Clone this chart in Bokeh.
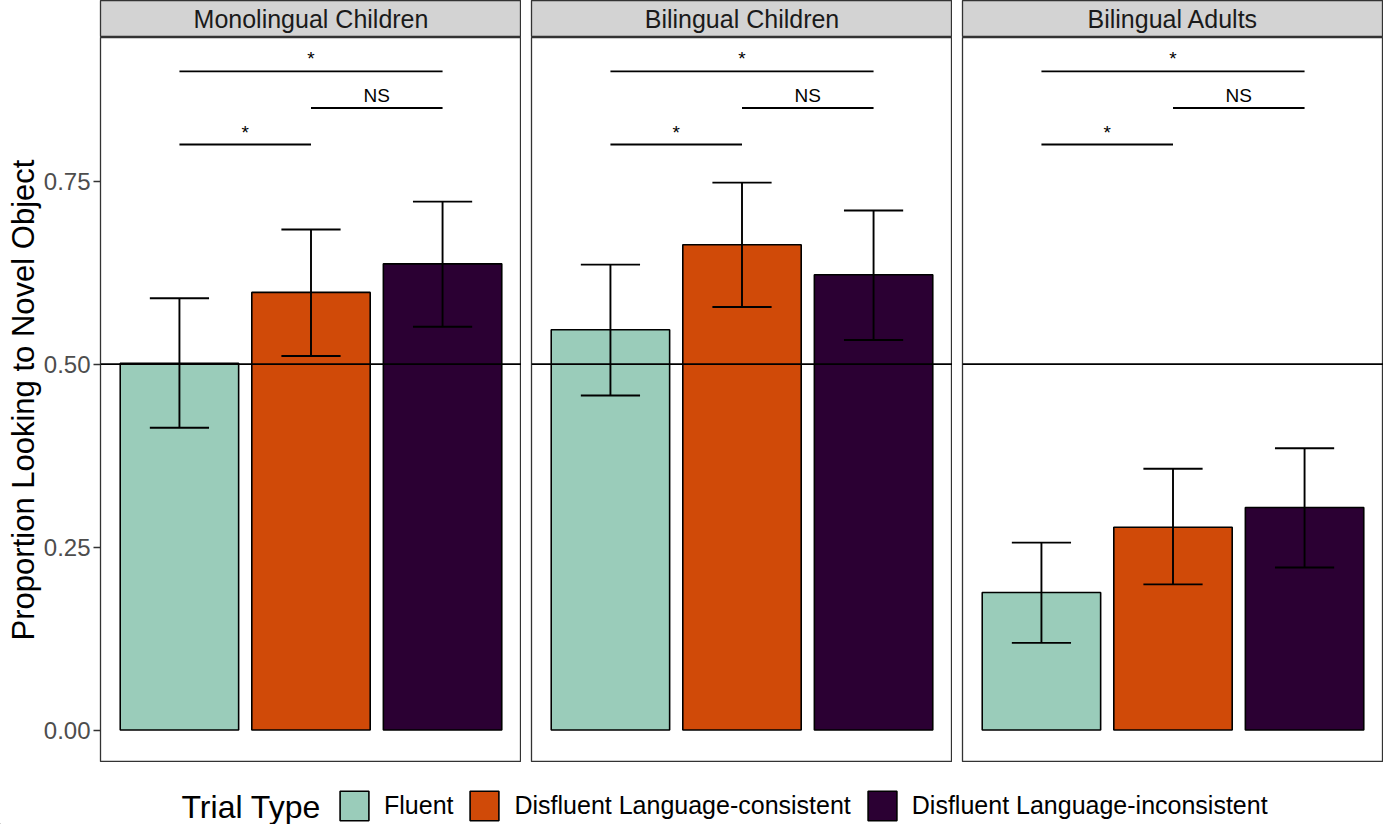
from bokeh.plotting import figure
from bokeh.models import Range1d, Span, Label, Legend, LegendItem, FixedTicker, ColumnDataSource
from bokeh.layouts import row, column
from bokeh.embed import file_html
from bokeh.resources import INLINE

FONT = "Liberation Sans"

groups = ["Monolingual Children", "Bilingual Children", "Bilingual Adults"]
trial_types = ["Fluent", "Disfluent Language-consistent", "Disfluent Language-inconsistent"]
colors = ["#9ACCBA", "#D04A08", "#2B0033"]

mono_mean = [0.501, 0.598, 0.637]
mono_lo = [0.413, 0.511, 0.551]
mono_hi = [0.590, 0.684, 0.722]

bich_mean = [0.547, 0.663, 0.622]
bich_lo = [0.457, 0.578, 0.533]
bich_hi = [0.636, 0.748, 0.710]

adult_mean = [0.188, 0.277, 0.304]
adult_lo = [0.119, 0.199, 0.222]
adult_hi = [0.256, 0.357, 0.385]

means = [mono_mean, bich_mean, adult_mean]
lows = [mono_lo, bich_lo, adult_lo]
highs = [mono_hi, bich_hi, adult_hi]

# significance comparisons: (from index, to index, y level, label)
sig_from = [1, 2, 1]
sig_to = [3, 3, 2]
sig_y = [0.90, 0.85, 0.80]
sig_label = ["*", "NS", "*"]

y_ticks = [0.0, 0.25, 0.5, 0.75]
y_tick_labels = ["0.00", "0.25", "0.50", "0.75"]

LEFT = 100
GAP = 10
FRAME_W = 421
FRAME_H = 725
STRIP_H = 37
BAR_W = 0.9
CAP_W = 0.45
LW = 1.9

headers = []
panels = []
for gi, g in enumerate(groups):
    left_border = LEFT if gi == 0 else GAP
    # strip header
    h = figure(frame_width=FRAME_W, frame_height=STRIP_H, x_range=Range1d(0, 1), y_range=Range1d(0, 1),
               toolbar_location=None, output_backend="svg", x_axis_location=None, y_axis_location=None,
               min_border_left=left_border, min_border_right=0, min_border_top=0, min_border_bottom=0)
    h.background_fill_color = "#D3D3D3"
    h.border_fill_color = "white"
    h.outline_line_color = "#333333"
    h.outline_line_width = 1.3
    h.grid.visible = False
    h.add_layout(Label(x=0.5, y=0.5, text=g, text_align="center", text_baseline="middle",
                       text_font=FONT, text_font_size="25px", text_color="#1A1A1A"))
    headers.append(h)

    xs = [i + 1 for i in range(len(trial_types))]
    p = figure(frame_width=FRAME_W, frame_height=FRAME_H, x_range=Range1d(0.4, 3.6),
               y_range=Range1d(-0.0444, 0.9463), toolbar_location=None, output_backend="svg",
               x_axis_location=None, y_axis_location=("left" if gi == 0 else None),
               min_border_left=left_border, min_border_right=0, min_border_top=0, min_border_bottom=0)
    p.background_fill_color = "white"
    p.border_fill_color = "white"
    p.outline_line_color = "#333333"
    p.outline_line_width = 1.3
    p.grid.visible = False

    src = ColumnDataSource(dict(x=xs, top=means[gi], lo=lows[gi], hi=highs[gi], color=colors,
                                cap0=[x - CAP_W / 2 for x in xs], cap1=[x + CAP_W / 2 for x in xs]))
    p.vbar(x="x", top="top", bottom=0, width=BAR_W, fill_color="color", line_color="black",
           line_width=1.6, source=src)
    p.add_layout(Span(location=0.5, dimension="width", line_color="black", line_width=LW))
    p.segment(x0="x", x1="x", y0="lo", y1="hi", line_color="black", line_width=LW, source=src)
    p.segment(x0="cap0", x1="cap1", y0="lo", y1="lo", line_color="black", line_width=LW, source=src)
    p.segment(x0="cap0", x1="cap1", y0="hi", y1="hi", line_color="black", line_width=LW, source=src)

    sig_src = ColumnDataSource(dict(x0=sig_from, x1=sig_to, y=sig_y, label=sig_label,
                                    xm=[(a + b) / 2 for a, b in zip(sig_from, sig_to)]))
    p.segment(x0="x0", x1="x1", y0="y", y1="y", line_color="black", line_width=LW, source=sig_src)
    p.text(x="xm", y="y", text="label", source=sig_src, text_align="center", text_baseline="bottom",
           y_offset=-2, text_font={"value": FONT}, text_font_size="19px", text_color="black")

    if gi == 0:
        ax = p.yaxis[0]
        ax.ticker = FixedTicker(ticks=y_ticks)
        ax.major_label_overrides = {t: l for t, l in zip(y_ticks, y_tick_labels)}
        ax.axis_line_color = None
        ax.major_tick_line_color = "#333333"
        ax.major_tick_line_width = 1.3
        ax.major_tick_out = 7
        ax.major_tick_in = 0
        ax.minor_tick_line_color = None
        ax.major_label_text_font = FONT
        ax.major_label_text_font_size = "24px"
        ax.major_label_text_color = "#4D4D4D"
        ax.major_label_standoff = 3
        ax.axis_label = "Proportion Looking to Novel Object"
        ax.axis_label_text_font = FONT
        ax.axis_label_text_font_size = "31px"
        ax.axis_label_text_font_style = "normal"
        ax.axis_label_text_color = "black"
        ax.axis_label_standoff = 0
    panels.append(p)

# legend figure
TOTAL_W = LEFT + 3 * FRAME_W + 2 * GAP
LEG_H = 62
lg = figure(frame_width=TOTAL_W, frame_height=LEG_H, x_range=Range1d(0, 1), y_range=Range1d(0, 1),
            toolbar_location=None, output_backend="svg", x_axis_location=None, y_axis_location=None,
            min_border=0)
lg.outline_line_color = None
lg.grid.visible = False
items = []
for t, c in zip(trial_types, colors):
    # key-only renderer (placed outside the visible range; used for the legend swatch)
    r = lg.vbar(x=[-5], top=[0], bottom=[0], width=0.1, fill_color=c, line_color="black", line_width=1.6)
    items.append(LegendItem(label=t, renderers=[r]))
legend = Legend(items=items, orientation="horizontal", location=(336, 0),
                glyph_width=36, glyph_height=37, label_height=37, label_standoff=12, spacing=13,
                padding=0, margin=0, border_line_color=None, background_fill_alpha=0,
                label_text_font=FONT, label_text_font_size="25px", label_text_color="black")
lg.add_layout(legend, "center")
lg.add_layout(Label(x=181, y=18, x_units="screen", y_units="screen", text="Trial Type",
                    text_align="left", text_baseline="middle", text_font=FONT,
                    text_font_size="32px", text_color="black"))

layout = column(row(*[column(h, p, spacing=0) for h, p in zip(headers, panels)], spacing=0), lg, spacing=0)
open("out.html", "w").write(file_html(layout, INLINE))
